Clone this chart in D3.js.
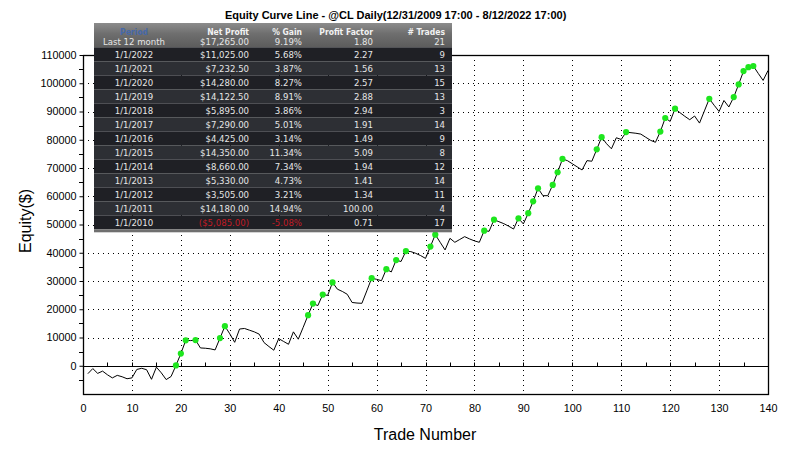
<!DOCTYPE html>
<html>
<head>
<meta charset="utf-8">
<script src="https://cdn.jsdelivr.net/npm/d3@7"></script>
<style>
html,body{margin:0;padding:0;background:#fff;}
svg{display:block;}
</style>
</head>
<body>
<svg id="chart" width="802" height="449"></svg>
<script>
// ---------- DATA ----------
const equity = [
  -2800,-1000,-2700,-1900,-3200,-4300,-3400,-3900,-4600,-4300,
  -1300,-900,-1400,-4800,-500,-2500,-4900,-3800,100,4300,
  9000,8900,9100,6300,6200,6000,5600,9800,14000,11300,
  8300,13000,13200,12600,12000,11200,8200,6800,5500,9600,
  8600,7600,12000,9400,13600,17900,22000,21300,25200,24900,
  29500,27100,26300,25300,22400,22200,22100,26500,31000,30600,
  30100,34200,33200,37400,36900,40600,40400,39800,39000,38000,
  42200,46400,43700,41000,45100,43700,44700,45700,44900,44200,
  43700,47800,47600,51700,51000,50300,49400,48400,52200,50200,
  54000,58200,62800,60200,60200,64000,68500,73200,72600,71500,
  70400,69300,72600,72400,76600,80900,78600,76800,80700,80100,
  82700,82500,82300,82000,80900,79800,79100,82900,87700,86500,
  91000,89600,88300,87100,88400,85900,90200,94500,92200,90000,
  93900,91600,95100,99600,104300,105700,106100,103500,101000,104500
];
const xTicks = [0,10,20,30,40,50,60,70,80,90,100,110,120,130,140];
const yTicks = [0,10000,20000,30000,40000,50000,60000,70000,80000,90000,100000,110000];

const titleText = "Equity Curve Line - @CL Daily(12/31/2009 17:00 - 8/12/2022 17:00)";
const tableHeader = ["Period","Net Profit","% Gain","Profit Factor","# Trades"];
const periods = ["Last 12 month","1/1/2022","1/1/2021","1/1/2020","1/1/2019","1/1/2018","1/1/2017","1/1/2016","1/1/2015","1/1/2014","1/1/2013","1/1/2012","1/1/2011","1/1/2010"];
const netProfit = ["$17,265.00","$11,025.00","$7,232.50","$14,280.00","$14,122.50","$5,895.00","$7,290.00","$4,425.00","$14,350.00","$8,660.00","$5,330.00","$3,505.00","$14,180.00","($5,085.00)"];
const pctGain = ["9.19%","5.68%","3.87%","8.27%","8.91%","3.86%","5.01%","3.14%","11.34%","7.34%","4.73%","3.21%","14.94%","-5.08%"];
const profitFactor = ["1.80","2.27","1.56","2.57","2.88","2.94","1.91","1.49","5.09","1.94","1.41","1.34","100.00","0.71"];
const numTrades = ["21","9","13","15","13","3","14","9","8","12","14","11","4","17"];

// ---------- SETUP ----------
const svg = d3.select("#chart");
const L = 83, R = 768, T = 55, B = 394;
const x = d3.scaleLinear().domain([0,140]).range([L,R]);
const y = d3.scaleLinear().domain([-10000,110000]).range([B,T]);
const pts = equity.map((v,i)=>({t:i+1, v}));
const afont = "Liberation Sans, Arial, sans-serif";

svg.append("rect").attr("width",802).attr("height",449).attr("fill","#fff");

// gridlines
const grid = svg.append("g").attr("stroke","#000").attr("stroke-width",1).attr("stroke-dasharray","1,4");
grid.selectAll("line.h").data(yTicks.filter(d=>d>0 && d<110000)).join("line")
  .attr("x1",L).attr("x2",R).attr("y1",d=>Math.round(y(d))+0.5).attr("y2",d=>Math.round(y(d))+0.5);
grid.selectAll("line.v").data(xTicks.filter(d=>d>0 && d<140)).join("line")
  .attr("y1",T).attr("y2",B).attr("x1",d=>Math.round(x(d))+0.5).attr("x2",d=>Math.round(x(d))+0.5);

// zero line with ticks
const zy = Math.round(y(0))+0.5;
svg.append("line").attr("x1",L).attr("x2",R).attr("y1",zy).attr("y2",zy).attr("stroke","#000").attr("stroke-width",1.2);
svg.append("g").selectAll("line").data(d3.range(5,140,5)).join("line")
  .attr("x1",d=>Math.round(x(d))+0.5).attr("x2",d=>Math.round(x(d))+0.5)
  .attr("y1",zy).attr("y2",zy-4).attr("stroke","#000");

// frame
svg.append("rect").attr("x",L+0.5).attr("y",T+0.5).attr("width",R-L).attr("height",B-T)
  .attr("fill","none").attr("stroke","#000").attr("stroke-width",1.3);

// left axis
const yAxis = d3.axisLeft(y).tickValues(yTicks).tickFormat(d3.format("d")).tickSize(4).tickSizeOuter(0).tickPadding(3);
const gy = svg.append("g").attr("transform",`translate(${L+0.5},0)`).call(yAxis);
gy.select(".domain").remove();
gy.selectAll("text").attr("font-family",afont).attr("font-size","10.8px").attr("fill","#000");
// minor ticks
svg.append("g").selectAll("line").data(d3.range(-5000,110000,10000)).join("line")
  .attr("x1",L-4).attr("x2",L).attr("y1",d=>Math.round(y(d))+0.5).attr("y2",d=>Math.round(y(d))+0.5).attr("stroke","#000");

// bottom axis labels
const xAxis = d3.axisBottom(x).tickValues(xTicks).tickFormat(d3.format("d")).tickSize(0).tickPadding(10);
const gx = svg.append("g").attr("transform",`translate(0,${B})`).call(xAxis);
gx.select(".domain").remove();
gx.selectAll("text").attr("font-family",afont).attr("font-size","10.8px").attr("fill","#000");

// line
const line = d3.line().x(d=>x(d.t)).y(d=>y(d.v));
svg.append("path").datum(pts).attr("d",line).attr("fill","none").attr("stroke","#000").attr("stroke-width",1);

// new-high markers
let runMax = 0;
const highs = pts.filter(p=>{ if(p.v>runMax){runMax=p.v; return true;} return false; });
svg.append("g").selectAll("circle").data(highs).join("circle")
  .attr("cx",d=>x(d.t)).attr("cy",d=>y(d.v)).attr("r",3.1).attr("fill","#1ee61e");

// axis titles
svg.append("text").attr("x",425).attr("y",440).attr("text-anchor","middle")
  .attr("font-family",afont).attr("font-size","16px").text("Trade Number");
svg.append("text").attr("transform","translate(31,221) rotate(-90)").attr("text-anchor","middle")
  .attr("font-family",afont).attr("font-size","16px").text("Equity($)");

// title
svg.append("text").attr("x",225).attr("y",19).attr("font-family",afont)
  .attr("font-weight","bold").attr("font-size","11px").text(titleText);

// ---------- TABLE ----------
const defs = svg.append("defs");
const grad = defs.append("linearGradient").attr("id","hdr").attr("x1",0).attr("x2",0).attr("y1",0).attr("y2",1);
grad.append("stop").attr("offset","0%").attr("stop-color","#8c8c8c");
grad.append("stop").attr("offset","45%").attr("stop-color","#6e6e6e");
grad.append("stop").attr("offset","100%").attr("stop-color","#5c5c5c");

const tx = 94, tw = 358, ty = 23, rowH = 14, hdrH = 24.3;
const tbl = svg.append("g");
tbl.append("rect").attr("x",tx).attr("y",ty).attr("width",tw).attr("height",hdrH).attr("fill","url(#hdr)");
const yearRows = d3.range(1, periods.length);
tbl.selectAll("rect.row").data(yearRows).join("rect")
  .attr("x",tx).attr("y",(d,i)=>ty+hdrH+i*rowH).attr("width",tw).attr("height",rowH)
  .attr("fill",(d,i)=> i%2===0 ? "#1f2025" : "#2d2f34");
tbl.append("rect").attr("x",tx).attr("y",ty+hdrH+(periods.length-1)*rowH).attr("width",tw).attr("height",3)
  .attr("fill","#6f6f6f");

const colX = [134, 249, 302, 373, 445];
const colAnchor = ["middle","end","end","end","end"];
const tfont = "DejaVu Sans Condensed, DejaVu Sans, Verdana, sans-serif";

tbl.selectAll("text.h").data(tableHeader).join("text")
  .attr("x",(d,i)=>colX[i]).attr("y",34.5).attr("text-anchor",(d,i)=>colAnchor[i])
  .attr("font-family",tfont).attr("font-weight","bold").attr("font-size","8.5px")
  .attr("fill",(d,i)=> i===0 ? "#4668a8" : "#f2f2f2").text(d=>d);

const rowsData = periods.map((p,i)=>({i, cells:[p, netProfit[i], pctGain[i], profitFactor[i], numTrades[i]]}));
const rowG = tbl.selectAll("g.r").data(rowsData).join("g");
rowG.each(function(r){
  const by = r.i===0 ? 45 : ty+hdrH+(r.i-1)*rowH + 10.3;
  d3.select(this).selectAll("text").data(r.cells).join("text")
    .attr("x",(d,j)=>colX[j]).attr("y",by).attr("text-anchor",(d,j)=>colAnchor[j])
    .attr("font-family",tfont).attr("font-size","9.5px")
    .attr("stroke",(d,j)=> "none")
    .attr("fill",(d,j)=> ((j===1||j===2) && (d.indexOf("-")>=0 || d.indexOf("(")>=0)) ? "#c21a24" : "#e6e6e6")
    .text(d=>d);
});
</script>
</body>
</html>
